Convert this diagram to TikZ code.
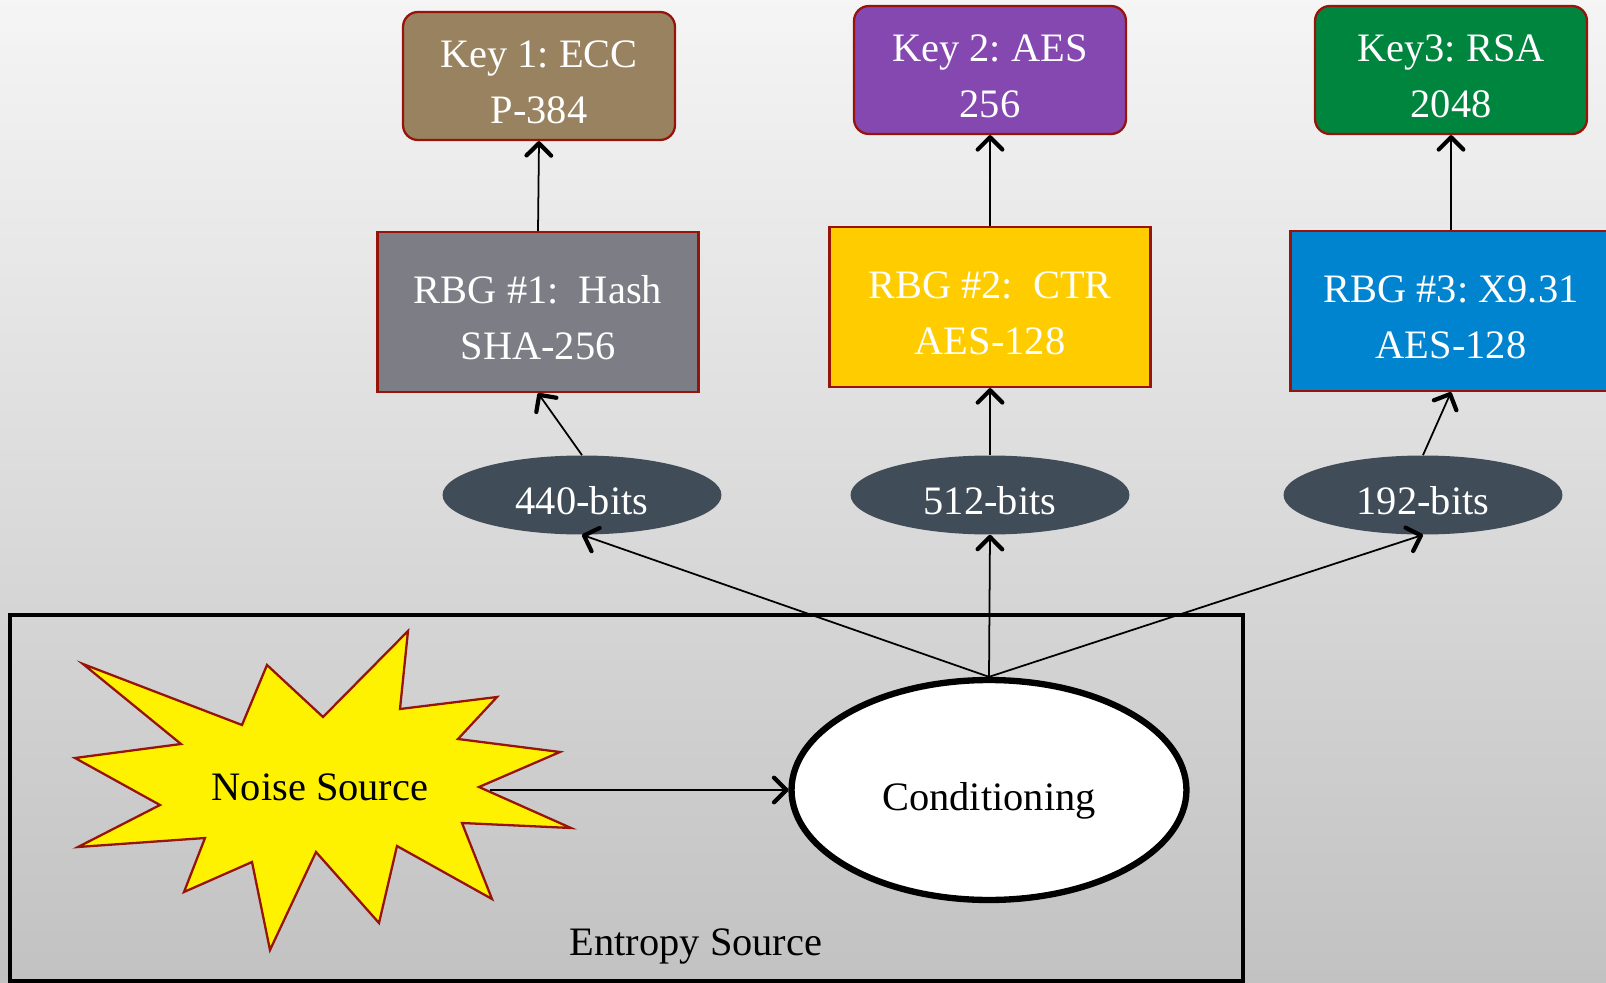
\documentclass[tikz,border=0pt]{standalone}
\usepackage{fontspec}
\setmainfont{Liberation Serif}
\usetikzlibrary{arrows.meta,shapes.geometric}
\frenchspacing

\definecolor{keybrown}{RGB}{152,130,95}
\definecolor{keypurple}{RGB}{133,71,176}
\definecolor{keygreen}{RGB}{0,133,62}
\definecolor{rbggray}{RGB}{125,125,133}
\definecolor{rbgyellow}{RGB}{255,204,0}
\definecolor{rbgblue}{RGB}{0,132,207}
\definecolor{bitslate}{RGB}{64,77,88}
\definecolor{edgered}{RGB}{150,20,10}

\tikzset{
	bigtext/.style={font=\fontsize{23}{32}\selectfont},
	lowtext/.style={execute at begin node={\rule{0pt}{#1}}},
	twolines/.style={text height=54pt, text depth=0pt},
	keybox/.style={bigtext, twolines, draw=edgered, line width=1.3pt, rounded corners=8.5pt, minimum width=5.44cm, minimum height=2.56cm, text=white, align=center},
	rbgbox/.style={bigtext, twolines, draw=edgered, line width=1.3pt, minimum width=6.42cm, minimum height=3.2cm, text=white, align=center},
	bitsnode/.style={bigtext, lowtext=22pt, ellipse, fill=bitslate, minimum width=5.58cm, minimum height=1.58cm, inner sep=0pt, text=white},
	condnode/.style={bigtext, lowtext=28pt, ellipse, draw, fill=white, line width=3.6pt, minimum width=7.9cm, minimum height=4.4cm},
	noisestar/.style={draw=edgered, fill=yellow, line width=1.3pt, line join=miter},
	link/.style={->, line width=1pt},
	>={Straight Barb[length=7pt,width=14pt,line width=2.4pt,round]}
}

\begin{document}
\begin{tikzpicture}[x=0.02cm, y=-0.02cm]
			%%%%% START %%%%%
			
			\useasboundingbox (0,0) rectangle (1606,983);
			\shade[top color=black!4, bottom color=black!24] (0,0) rectangle (1606,983);
			
			% entropy source box
			\draw[line width=2.4pt] (10,615) rectangle (1243,981);
			\node[bigtext] (entlabel) at (696,946) {Entropy Source};
			
			% noise source star
			\draw[noisestar] (83,664) -- (242,725) -- (267,665) -- (323,717) -- (408,631) -- (400,709)
				-- (497,697) -- (458,739) -- (560,752) -- (479,787) -- (571,828) -- (462,823)
				-- (492,899) -- (397,846) -- (379,923) -- (316,852) -- (270,950) -- (252,862)
				-- (184,892) -- (205,838) -- (78,847) -- (160,805) -- (75,758) -- (181,744) -- cycle;
			\node[bigtext] (noise) at (320,787) {Noise Source};
			\coordinate (noiseout) at (490,790);
			
			\node[condnode] (cond) at (989,790) {Conditioning};
			
			% bits
			\node[bitsnode] (bitsa) at (582,495) {440-bits};
			\node[bitsnode] (bitsb) at (990,495) {512-bits};
			\node[bitsnode] (bitsc) at (1423,495) {192-bits};
			
			% generators
			\node[rbgbox, fill=rbggray] (rbga) at (538,312) {RBG \#1:\ \ Hash\\SHA-256};
			\node[rbgbox, fill=rbgyellow] (rbgb) at (990,307) {RBG \#2:\ \ CTR\\AES-128};
			\node[rbgbox, fill=rbgblue] (rbgc) at (1451,311) {RBG \#3: X9.31\\AES-128};
			
			% keys
			\node[keybox, fill=keybrown] (keya) at (539,76) {Key 1: ECC\\P-384};
			\node[keybox, fill=keypurple] (keyb) at (990,70) {Key 2: AES\\256};
			\node[keybox, fill=keygreen] (keyc) at (1451,70) {Key3: RSA\\2048};
			
			\draw[link] (noiseout) -- (cond.west);
			
			\draw[link] (cond.north) -- (bitsa.south);
			\draw[link] (cond.north) -- (bitsb.south);
			\draw[link] (cond.north) -- (bitsc.south);
			
			\draw[link] (bitsa.north) -- (rbga.south);
			\draw[link] (bitsb.north) -- (rbgb.south);
			\draw[link] (bitsc.north) -- (rbgc.south);
			
			\draw[link] (rbga.north) -- (keya.south);
			\draw[link] (rbgb.north) -- (keyb.south);
			\draw[link] (rbgc.north) -- (keyc.south);
			
			%%%%% END %%%%%
\end{tikzpicture}
\end{document}
